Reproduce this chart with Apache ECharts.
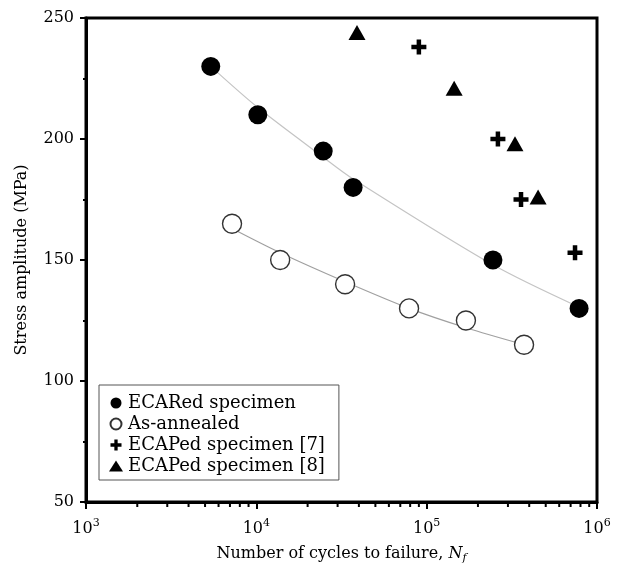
<!DOCTYPE html>
<html>
<head>
<meta charset="utf-8">
<script src="https://cdn.jsdelivr.net/npm/echarts@6/dist/echarts.min.js"></script>
<style>
  html, body { margin: 0; padding: 0; background: #fff; }
  #chart { width: 618px; height: 564px; }
</style>
</head>
<body>
<div id="chart"></div>
<script>
// points: [cycles, stress MPa]
const ecaredPts = [[5400, 230], [10200, 210], [24700, 195], [37000, 180], [245000, 150], [785000, 130]]
const annealedPts = [[7200, 165], [13800, 150], [33200, 140], [78800, 130], [170000, 125], [373000, 115]]
const ecap7Pts = [[90000, 238], [262000, 200], [358000, 175], [743000, 153]]
const ecap8Pts = [[39000, 244], [145000, 221], [330000, 198], [451000, 176]]
// fitted trend lines (as drawn)
const ecaredFit = [[5400, 230], [10200, 213], [24700, 192.5], [37000, 183.5], [245000, 148], [785000, 130.5]]
const annealedFit = [[7200, 163], [13800, 153], [33200, 141], [78800, 130], [170000, 122], [373000, 115]]
// log minor tick positions on the x axis
const minorX = [2e3, 3e3, 4e3, 5e3, 6e3, 7e3, 8e3, 9e3,
  2e4, 3e4, 4e4, 5e4, 6e4, 7e4, 8e4, 9e4,
  2e5, 3e5, 4e5, 5e5, 6e5, 7e5, 8e5, 9e5]
const yTicks = [50, 100, 150, 200, 250]

const FONT = 'DejaVu Serif'
const plusPath = 'path://M3.5,0H6.5V3.5H10V6.5H6.5V10H3.5V6.5H0V3.5H3.5Z'

const chart = echarts.init(document.getElementById('chart'))
chart.setOption({
  animation: false,
  backgroundColor: '#fff',
  textStyle: { fontFamily: FONT },
  grid: {
    left: 86, right: 21, top: 18, bottom: 62, outerBoundsMode: 'none', containLabel: false,
    show: true, borderColor: '#000', borderWidth: 3
  },
  legend: {
    orient: 'vertical',
    left: 99, top: 385,
    backgroundColor: '#fff',
    borderColor: '#555', borderWidth: 1,
    padding: [9, 14, 5, 10],
    itemWidth: 14, itemHeight: 11, itemGap: 3,
    textStyle: { fontFamily: FONT, fontSize: 18, color: '#000', lineHeight: 18 },
    data: ['ECARed specimen', 'As-annealed', 'ECAPed specimen [7]', 'ECAPed specimen [8]']
  },
  xAxis: {
    type: 'log', logBase: 10, min: 1000, max: 1000000,
    name: '{t|Number of cycles to failure, }{n|N}{f|f}',
    nameLocation: 'middle', nameGap: 41,
    nameTextStyle: {
      rich: {
        t: { fontFamily: FONT, fontSize: 16, color: '#000' },
        n: { fontFamily: FONT, fontSize: 16, fontStyle: 'italic', color: '#000' },
        f: { fontFamily: FONT, fontSize: 11, fontStyle: 'italic', color: '#000', verticalAlign: 'top', padding: [10, 0, 0, 0] }
      }
    },
    axisLine: { lineStyle: { color: '#000', width: 3 } },
    axisTick: { length: 7, lineStyle: { color: '#000', width: 2 } },
    splitLine: { show: false },
    axisLabel: {
      margin: 16,
      formatter: v => '{b|10}{e|' + Math.round(Math.log10(v)) + '}',
      rich: {
        b: { fontFamily: FONT, fontSize: 16, color: '#000' },
        e: { fontFamily: FONT, fontSize: 11, color: '#000', padding: [0, 0, 10, 0] }
      }
    }
  },
  yAxis: {
    type: 'value', min: 50, max: 250, interval: 50,
    name: 'Stress amplitude (MPa)',
    nameLocation: 'middle', nameGap: 56,
    nameTextStyle: { fontFamily: FONT, fontSize: 16, color: '#000' },
    axisLine: { show: true, lineStyle: { color: '#000', width: 3 } },
    axisTick: { length: 6, lineStyle: { color: '#000', width: 2 } },
    minorTick: { show: true, splitNumber: 2, length: 3, lineStyle: { color: '#000', width: 2 } },
    splitLine: { show: false },
    axisLabel: {
      margin: 12, color: '#000', fontFamily: FONT, fontSize: 16,
      formatter: v => yTicks.includes(v) ? String(v) : ''
    }
  },
  series: [
    {
      name: 'ecaredFit', type: 'line', data: ecaredFit, smooth: 0.3, symbol: 'none',
      lineStyle: { color: '#c4c4c4', width: 1.2 }, z: 1
    },
    {
      name: 'annealedFit', type: 'line', data: annealedFit, smooth: 0.3, symbol: 'none',
      lineStyle: { color: '#a0a0a0', width: 1.2 }, z: 1
    },
    {
      name: 'ECARed specimen', type: 'scatter', data: ecaredPts,
      symbol: 'circle', symbolSize: 19, itemStyle: { color: '#000', opacity: 1 }, z: 3
    },
    {
      name: 'As-annealed', type: 'scatter', data: annealedPts,
      symbol: 'circle', symbolSize: 19,
      itemStyle: { color: '#fff', borderColor: '#333', borderWidth: 1.4, opacity: 1 }, z: 3
    },
    {
      name: 'ECAPed specimen [7]', type: 'scatter', data: ecap7Pts,
      symbol: plusPath, symbolSize: 15, itemStyle: { color: '#000', opacity: 1 }, z: 3
    },
    {
      name: 'ECAPed specimen [8]', type: 'scatter', data: ecap8Pts,
      symbol: 'triangle', symbolSize: [17, 15], itemStyle: { color: '#000', opacity: 1 }, z: 3
    },
    {
      // minor log ticks along the bottom axis
      name: 'minorTicks', type: 'custom', clip: false, silent: true, z: 10,
      encode: { x: 0, y: 1 },
      data: minorX.map(v => [v, 50]),
      renderItem: (params, api) => {
        const p = api.coord([api.value(0), api.value(1)])
        return {
          type: 'rect',
          shape: { x: p[0] - 1, y: p[1], width: 2, height: 5 },
          style: { fill: '#000' }
        }
      }
    }
  ]
})
</script>
</body>
</html>
